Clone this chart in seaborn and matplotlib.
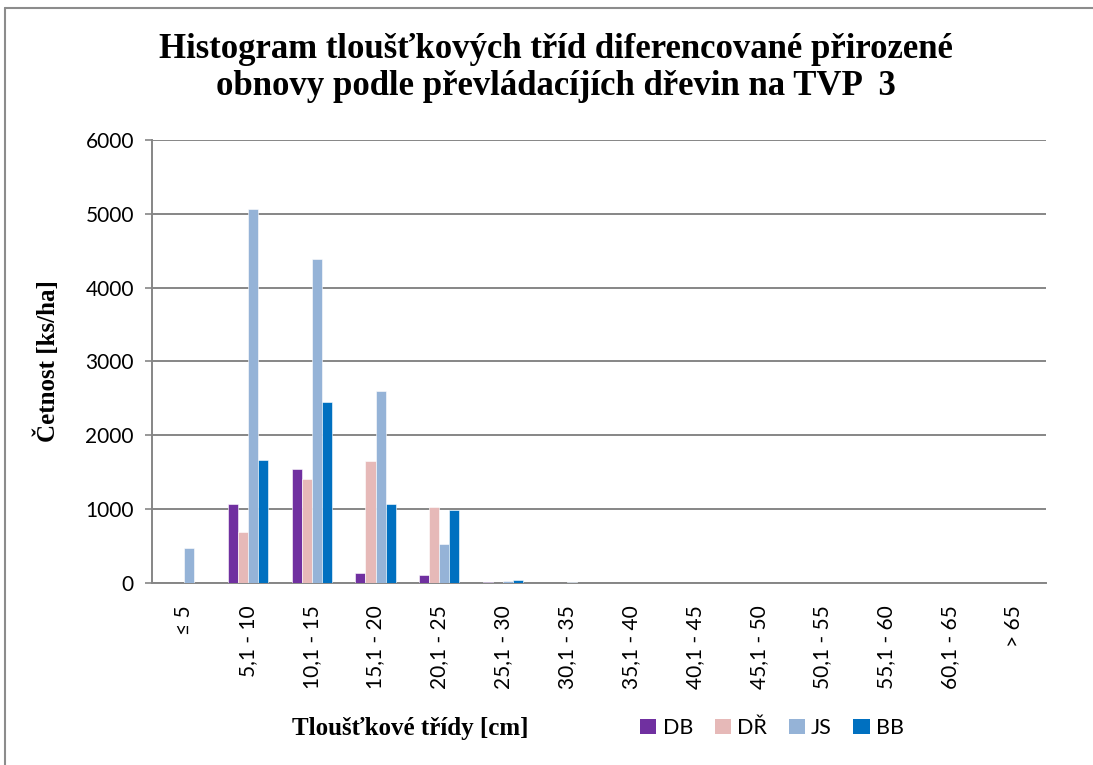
import matplotlib
matplotlib.use("Agg")
import matplotlib.pyplot as plt
from matplotlib.lines import Line2D
from matplotlib.patches import Patch
import seaborn as sns
import pandas as pd

# Diameter classes (cm)
classes = ["≤ 5", "5,1 - 10", "10,1 - 15", "15,1 - 20", "20,1 - 25", "25,1 - 30",
           "30,1 - 35", "35,1 - 40", "40,1 - 45", "45,1 - 50", "50,1 - 55",
           "55,1 - 60", "60,1 - 65", "> 65"]

# Stem counts per hectare for each dominant species
species = ["DB", "DŘ", "JS", "BB"]
db = [0, 1070, 1550, 135, 112, 12, 0, 0, 0, 0, 0, 0, 0, 0]
dr = [0, 695, 1405, 1650, 1035, 0, 0, 0, 0, 0, 0, 0, 0, 0]
js = [470, 5065, 4390, 2595, 532, 25, 15, 0, 0, 0, 0, 0, 0, 0]
bb = [0, 1668, 2458, 1070, 993, 45, 0, 0, 0, 0, 0, 0, 0, 0]

colors = ["#7030A0", "#E6B9B8", "#95B3D7", "#0070C0"]

rows = []
for name, vals in zip(species, [db, dr, js, bb]):
    for c, v in zip(classes, vals):
        rows.append({"trida": c, "druh": name, "cetnost": v})
df = pd.DataFrame(rows)

sns.set_theme(style="white")
plt.rcParams["font.family"] = ["Lato", "DejaVu Sans"]
plt.rcParams["text.color"] = "black"
plt.rcParams["axes.labelcolor"] = "black"

fig = plt.figure(figsize=(10.93, 7.65), dpi=100)
ax = fig.add_axes([152 / 1093, 1 - 583 / 765, (1046 - 152) / 1093, (583 - 140) / 765])

sns.barplot(data=df, x="trida", y="cetnost", hue="druh", order=classes,
            hue_order=species, palette=colors, width=0.63, saturation=1,
            edgecolor="white", linewidth=0.4, ax=ax, legend=False, zorder=3)

grid_c = "#868686"
ax.set_ylim(0, 6000)
ax.set_xlim(-0.5, len(classes) - 0.5)
ax.set_yticks(range(0, 6001, 1000))
ax.yaxis.grid(True, color=grid_c, linewidth=1.4, zorder=0)
ax.set_axisbelow(True)
for side in ["top", "right"]:
    ax.spines[side].set_visible(False)
for side in ["left", "bottom"]:
    ax.spines[side].set_color(grid_c)
    ax.spines[side].set_linewidth(1.4)

ax.tick_params(axis="y", which="both", left=True, length=5, width=1.2,
               color=grid_c, labelsize=15, pad=8, labelcolor="black")
ax.tick_params(axis="x", bottom=False, labelsize=15, pad=10, labelcolor="black")
ax.set_xticks(range(len(classes)))
ax.set_xticklabels(classes, rotation=90, ha="center", va="top")

ax.set_xlabel("")
ax.set_ylabel("Četnost [ks/ha]", fontfamily="Liberation Serif", fontweight="bold",
              fontsize=18, labelpad=14, color="black")
ax.yaxis.set_label_coords(-0.103, 0.5)

# Title
fig.text(556 / 1093, 1 - 68 / 765,
         "Histogram tloušťkových tříd diferencované přirozené\nobnovy podle převládacíjích dřevin na TVP  3",
         ha="center", va="center", fontfamily="Liberation Serif", fontweight="bold",
         fontsize=25, linespacing=1.14, color="black")

# Axis title for diameter classes
fig.text(410 / 1093, 1 - 728 / 765, "Tloušťkové třídy [cm]", ha="center", va="center",
         fontfamily="Liberation Serif", fontweight="bold", fontsize=18, color="black")

handles = [Patch(facecolor=c, edgecolor="none") for c in colors]
fig.legend(handles, species, loc="center", bbox_to_anchor=(772 / 1093, 1 - 728 / 765),
           ncol=4, frameon=False, fontsize=15.5, handlelength=0.75, handleheight=0.75,
           handletextpad=0.3, columnspacing=1.0, borderaxespad=0)

# Outer chart frame
fig.add_artist(Line2D([5 / 1093, 5 / 1093], [0, 1 - 8 / 765], transform=fig.transFigure,
                      color="#8c8c8c", linewidth=1.5))
fig.add_artist(Line2D([5 / 1093, 1], [1 - 8 / 765, 1 - 8 / 765], transform=fig.transFigure,
                      color="#8c8c8c", linewidth=1.5))

fig.savefig("out.png", dpi=100, facecolor="white")
